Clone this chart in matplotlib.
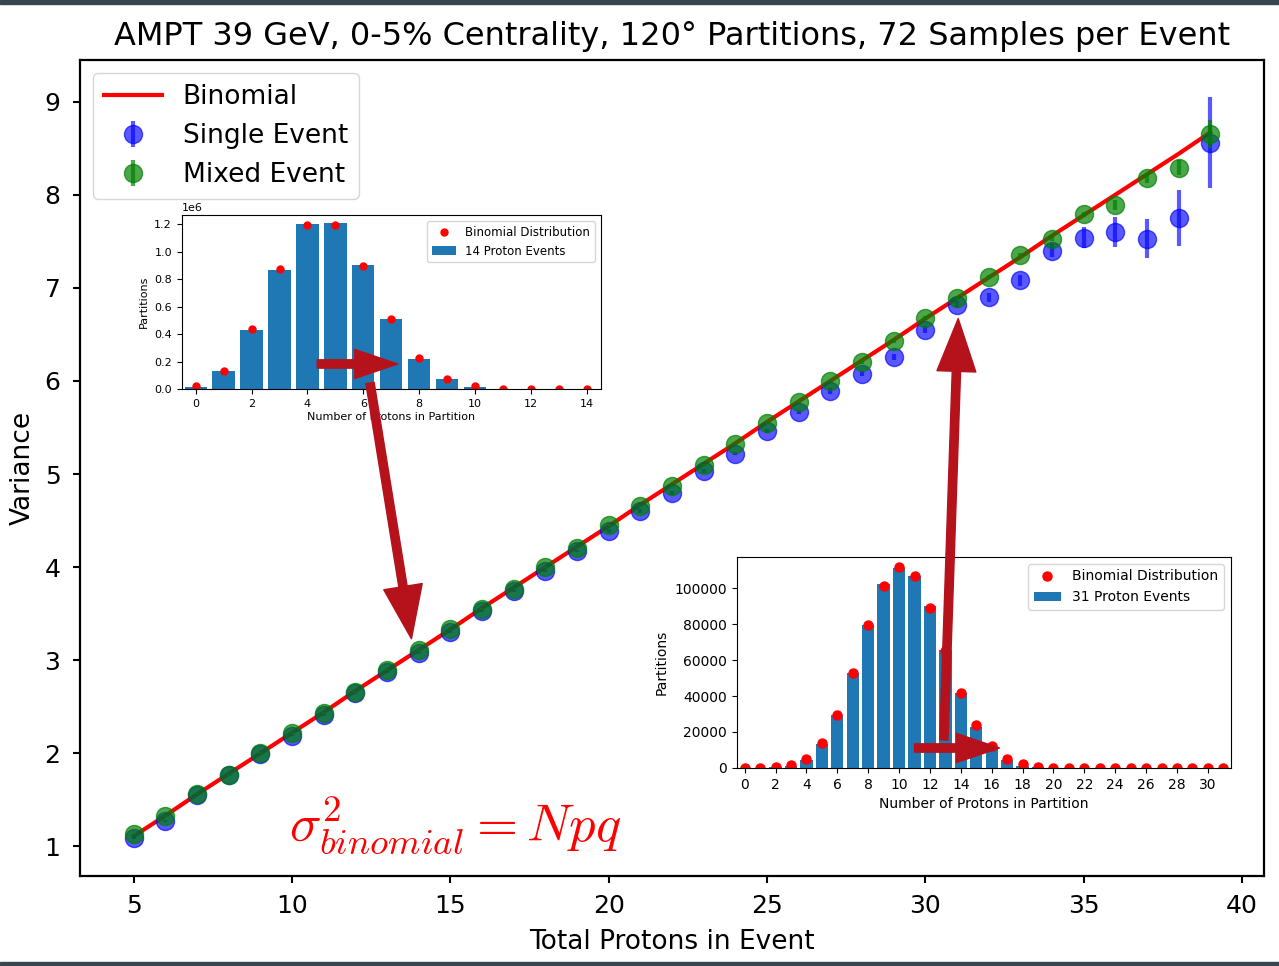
import matplotlib
matplotlib.use("Agg")
import matplotlib.pyplot as plt
from matplotlib.patches import Rectangle, ConnectionPatch

# ---- main panel data: variance vs. total protons in event ----
total_protons = list(range(5, 40))
binomial_var = [1.11, 1.33, 1.56, 1.78, 2.00, 2.22, 2.44, 2.67, 2.89, 3.11,
                3.33, 3.56, 3.78, 4.00, 4.22, 4.44, 4.67, 4.89, 5.11, 5.33,
                5.56, 5.78, 6.00, 6.22, 6.44, 6.67, 6.89, 7.11, 7.33, 7.56,
                7.78, 8.00, 8.22, 8.44, 8.67]
single_var = [1.09, 1.27, 1.55, 1.77, 1.99, 2.19, 2.41, 2.65, 2.87, 3.08,
              3.30, 3.53, 3.74, 3.96, 4.17, 4.39, 4.60, 4.80, 5.03, 5.22,
              5.46, 5.67, 5.89, 6.08, 6.26, 6.55, 6.82, 6.90, 7.08, 7.40,
              7.54, 7.60, 7.53, 7.75, 8.56]
single_err = [0.01, 0.01, 0.01, 0.01, 0.01, 0.01, 0.01, 0.01, 0.01, 0.01,
              0.01, 0.01, 0.01, 0.01, 0.01, 0.02, 0.02, 0.02, 0.02, 0.02,
              0.02, 0.02, 0.03, 0.03, 0.03, 0.04, 0.04, 0.05, 0.06, 0.07,
              0.11, 0.16, 0.21, 0.30, 0.49]
mixed_var = [1.13, 1.33, 1.56, 1.77, 2.00, 2.22, 2.43, 2.66, 2.89, 3.11,
             3.33, 3.55, 3.77, 4.00, 4.21, 4.45, 4.66, 4.87, 5.10, 5.32,
             5.55, 5.77, 6.00, 6.20, 6.43, 6.68, 6.89, 7.12, 7.35, 7.53,
             7.79, 7.89, 8.18, 8.29, 8.65]
mixed_err = [0.01, 0.01, 0.01, 0.01, 0.01, 0.01, 0.01, 0.01, 0.01, 0.01,
             0.01, 0.01, 0.01, 0.01, 0.01, 0.01, 0.01, 0.01, 0.01, 0.01,
             0.01, 0.01, 0.01, 0.02, 0.02, 0.02, 0.02, 0.02, 0.02, 0.03,
             0.03, 0.05, 0.05, 0.08, 0.15]

# ---- inset 1: 14 proton events ----
n14_k = list(range(0, 15))
n14_counts = [15000, 130000, 430000, 865000, 1200000, 1205000, 905000,
              510000, 215000, 70000, 18000, 3000, 400, 30, 1]
n14_binom = [19000, 134000, 435000, 870000, 1195000, 1195000, 897000,
             512000, 224000, 75000, 18700, 3400, 430, 33, 1]

# ---- inset 2: 31 proton events ----
n31_k = list(range(0, 32))
n31_counts = [0, 20, 300, 1300, 4600, 13300, 29400, 52800, 79400, 102000,
              111100, 106900, 89800, 65400, 41700, 22800, 10900, 4600, 1300,
              300, 60, 10, 0, 0, 0, 0, 0, 0, 0, 0, 0, 0]
n31_binom = [0, 100, 500, 1900, 5200, 13700, 29300, 52800, 79300, 101300,
             111700, 106500, 88900, 64800, 41700, 23700, 12000, 5200, 2200,
             700, 200, 50, 10, 0, 0, 0, 0, 0, 0, 0, 0, 0]

arrow_red = "#b5121b"

fig = plt.figure(figsize=(12.79, 9.66), dpi=100)

# thin dark bands along the top and bottom edges
fig.add_artist(Rectangle((0, 1 - 4 / 966), 1, 4 / 966, transform=fig.transFigure,
                         color="#37474f", zorder=0))
fig.add_artist(Rectangle((0, 0), 1, 4 / 966, transform=fig.transFigure,
                         color="#37474f", zorder=0))

ax = fig.add_axes([0.0625, 0.0932, 0.9258, 0.8447])
ax.plot(total_protons, binomial_var, color="red", lw=3, label="Binomial", zorder=2)
ax.errorbar(total_protons, single_var, yerr=single_err, fmt="o", color="blue",
            ms=13, elinewidth=3, alpha=0.65, label="Single Event", zorder=3)
ax.errorbar(total_protons, mixed_var, yerr=mixed_err, fmt="o", color="green",
            ms=13, elinewidth=3, alpha=0.7, label="Mixed Event", zorder=4)
ax.set_xticks([5, 10, 15, 20, 25, 30, 35, 40])
ax.set_yticks([1, 2, 3, 4, 5, 6, 7, 8, 9])
ax.tick_params(labelsize=18, width=1.5, length=5)
ax.tick_params(axis="x", pad=8)
ax.tick_params(axis="y", pad=9)
for s in ax.spines.values():
    s.set_linewidth(1.6)
ax.set_xlabel("Total Protons in Event", fontsize=19, labelpad=8)
ax.set_ylabel("Variance", fontsize=19, labelpad=6)
ax.set_title("AMPT 39 GeV, 0-5% Centrality, 120° Partitions, 72 Samples per Event",
             fontsize=23, pad=11)
ax.legend(loc="upper left", fontsize=19, borderaxespad=0.5, handlelength=2.2)

ax.text(9.9, 1.05, r"$\sigma^2_{binomial} = Npq$", color="red", fontsize=38,
        math_fontfamily="cm", zorder=5)

# inset with the 14 proton distribution
ax1 = fig.add_axes([0.1421, 0.5973, 0.3276, 0.1801])
ax1.bar(n14_k, n14_counts, width=0.8, color="#1f77b4", label="14 Proton Events")
ax1.plot(n14_k, n14_binom, "o", color="red", ms=5, label="Binomial Distribution")
ax1.set_xlim(-0.5, 14.5)
ax1.set_xticks(range(0, 15, 2))
ax1.tick_params(labelsize=8)
ax1.yaxis.get_offset_text().set_fontsize(8)
ax1.set_xlabel("Number of Protons in Partition", fontsize=8, labelpad=2)
ax1.set_ylabel("Partitions", fontsize=8)
ax1.legend(fontsize=8.5, loc="upper right")

# inset with the 31 proton distribution
ax2 = fig.add_axes([0.5762, 0.2050, 0.3863, 0.2184])
ax2.bar(n31_k, n31_counts, width=0.8, color="#1f77b4", label="31 Proton Events")
ax2.plot(n31_k, n31_binom, "o", color="red", ms=6.5, label="Binomial Distribution")
ax2.set_xlim(-0.5, 31.5)
ax2.set_xticks(range(0, 31, 2))
ax2.tick_params(labelsize=10)
ax2.set_xlabel("Number of Protons in Partition", fontsize=10)
ax2.set_ylabel("Partitions", fontsize=10)
ax2.legend(fontsize=10, loc="upper right")

# arrows linking the insets to the main curve
small = dict(arrowstyle="simple,head_length=31,head_width=21,tail_width=6",
             mutation_scale=1, color=arrow_red, shrinkA=0, shrinkB=0)
big = dict(arrowstyle="simple,head_length=38,head_width=28,tail_width=6",
           mutation_scale=1, color=arrow_red, shrinkA=0, shrinkB=0)

ax1.add_artist(ConnectionPatch((4.35, 182000), (7.23, 182000), coordsA=ax1.transData,
                               coordsB=ax1.transData, zorder=10, **small))
ax2.add_artist(ConnectionPatch((11.0, 11100), (16.5, 11100), coordsA=ax2.transData,
                               coordsB=ax2.transData, zorder=10, **small))
fig.add_artist(ConnectionPatch((6.24, 44000), (13.77, 3.23), coordsA=ax1.transData,
                               coordsB=ax.transData, zorder=10, **big))
fig.add_artist(ConnectionPatch((12.9, 15600), (31.04, 6.67), coordsA=ax2.transData,
                               coordsB=ax.transData, zorder=10, **big))

fig.savefig("out.png", dpi=100)
